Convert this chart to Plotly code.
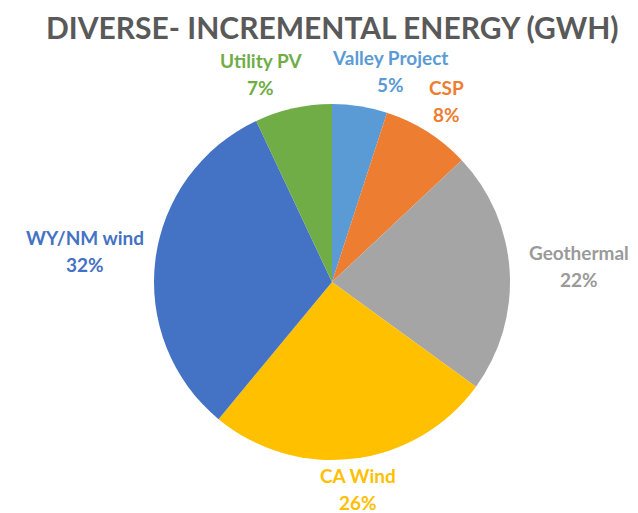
import math
import plotly.graph_objects as go

# Incremental energy share by resource (percent of GWh), clockwise from 12 o'clock
resources = ["Valley Project", "CSP", "Geothermal", "CA Wind", "WY/NM wind", "Utility PV"]
shares = [5, 8, 22, 26, 32, 7]
colors = ["#5B9BD5", "#ED7D31", "#A5A5A5", "#FFC000", "#4472C4", "#70AD47"]
label_colors = ["#5B9BD5", "#ED7D31", "#9A9A9A", "#FFC000", "#4472C4", "#70AD47"]

W, H = 638, 513
CX, CY, R = 332, 282, 178          # pie centre and radius in pixels
FONT = "Lato"
LBL_SIZE = 19
LINE_GAP = 13.5                     # half distance between the two label lines
GAP = 5                             # clearance between pie edge and label box
GAP_X = 12                          # extra clearance for labels at the sides
LABEL_PAD = 28                      # minimum spacing between neighbouring labels


def text_width(s, size):
    """Rough bold-Lato width estimate in pixels."""
    wide = sum(1 for ch in s if ch in "WMm%")
    narrow = sum(1 for ch in s if ch in "iltj/ ")
    return size * (0.56 * len(s) + 0.3 * wide - 0.25 * narrow)


fig = go.Figure(go.Pie(
    labels=resources,
    values=shares,
    sort=False,
    direction="clockwise",
    rotation=0,
    marker=dict(colors=colors, line=dict(width=0)),
    textinfo="none",
    hoverinfo="label+percent",
    domain=dict(x=[(CX - R) / W, (CX + R) / W],
                y=[(H - CY - R) / H, (H - CY + R) / H]),
    showlegend=False,
))

# Label placement: outside each slice along its mid-angle
total = sum(shares)
boxes = []
cum = 0
for name, v in zip(resources, shares):
    mid = (cum + v / 2) / total * 2 * math.pi
    cum += v
    ux, uy = math.sin(mid), -math.cos(mid)
    w = max(text_width(name, LBL_SIZE), text_width("00%", LBL_SIZE))
    h = 2 * LINE_GAP + 0.8 * LBL_SIZE
    support = abs(ux) * w / 2 + abs(uy) * h / 2
    d = R + GAP + GAP_X * ux * ux + support
    boxes.append([CX + ux * d, CY + uy * d, w, h])

# push apart labels that sit on the same level and collide horizontally
for _ in range(20):
    for i in range(len(boxes)):
        for j in range(i + 1, len(boxes)):
            a, b = boxes[i], boxes[j]
            ox = (a[2] + b[2]) / 2 + LABEL_PAD - abs(a[0] - b[0])
            oy = (a[3] + b[3]) / 2 - abs(a[1] - b[1])
            if ox > 0 and oy > a[3] / 2:
                s = 1 if a[0] < b[0] else -1
                a[0] -= s * ox / 2
                b[0] += s * ox / 2

annotations = []
for (x, y, _, _), name, v, c in zip(boxes, resources, shares, label_colors):
    pct = f"{round(100 * v / total)}%"
    for txt, yy in ((name, y - LINE_GAP), (pct, y + LINE_GAP)):
        annotations.append(dict(
            x=x / W, y=1 - yy / H, xref="paper", yref="paper",
            text=f"<b>{txt}</b>", showarrow=False,
            xanchor="center", yanchor="middle",
            font=dict(family=FONT, size=LBL_SIZE, color=c),
        ))

annotations.append(dict(
    x=332 / W, y=1 - 27 / H, xref="paper", yref="paper",
    text="<b>DIVERSE- INCREMENTAL ENERGY (GWH)</b>", showarrow=False,
    xanchor="center", yanchor="middle",
    font=dict(family=FONT, size=30, color="#595959"),
))

fig.update_layout(
    width=W, height=H,
    margin=dict(l=0, r=0, t=0, b=0),
    paper_bgcolor="white",
    plot_bgcolor="white",
    annotations=annotations,
)

fig.write_html("out.html")
